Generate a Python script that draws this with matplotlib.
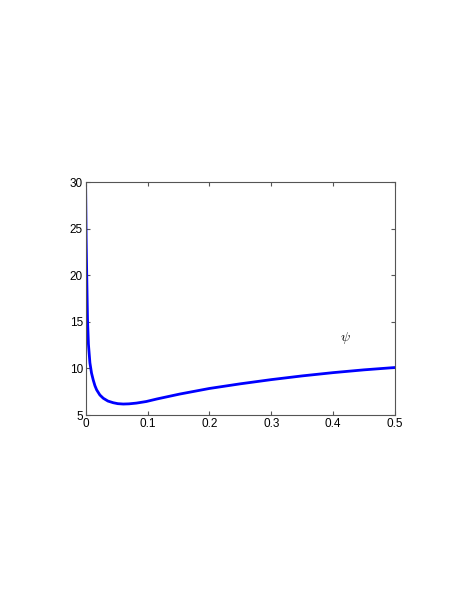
import matplotlib
matplotlib.use('Agg')
import matplotlib.pyplot as plt

# Values
x_vals = [0.0, 0.0008, 0.0016, 0.003, 0.0045, 0.0069, 0.0095, 0.0123, 0.015, 0.0178,
          0.023, 0.0285, 0.036, 0.0446, 0.052, 0.0608, 0.07, 0.082, 0.098, 0.115,
          0.152, 0.2, 0.25, 0.3, 0.35, 0.4, 0.45, 0.5]
psi_vals = [29.5, 24.0, 20.6, 15.3, 12.6, 10.6, 9.5, 8.75, 8.15, 7.7,
            7.15, 6.8, 6.5, 6.32, 6.22, 6.18, 6.2, 6.28, 6.45, 6.72,
            7.25, 7.85, 8.35, 8.8, 9.2, 9.55, 9.85, 10.1]
x_ticks = [0, 0.1, 0.2, 0.3, 0.4, 0.5]
y_ticks = [5, 10, 15, 20, 25, 30]

plt.rcParams['font.family'] = ['Liberation Sans', 'DejaVu Sans']
plt.rcParams['mathtext.fontset'] = 'cm'

fig = plt.figure(figsize=(4.68, 6.05), dpi=100)
ax = fig.add_axes([0.183, 0.314, 0.661, 0.385])
ax.plot(x_vals, psi_vals, color='#0000ff', linewidth=2.0)
ax.set_xlim(0, 0.5)
ax.set_ylim(5, 30)
ax.set_xticks(x_ticks)
ax.set_xticklabels(['0', '0.1', '0.2', '0.3', '0.4', '0.5'])
ax.set_yticks(y_ticks)
ax.tick_params(direction='in', top=True, right=True, length=3, labelsize=8.5,
               pad=2, color='#555555')
for s in ax.spines.values():
    s.set_color('#555555')
    s.set_linewidth(0.8)
ax.text(0.419, 13.3, r'$\psi$', fontsize=10, ha='center', va='center')

fig.savefig('out.png', dpi=100)
